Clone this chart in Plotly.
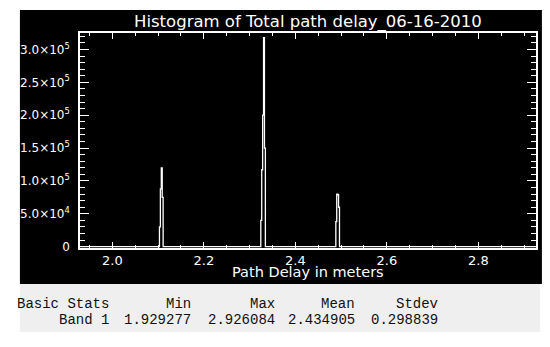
import plotly.graph_objects as go

# Histogram (bin centers in metres, counts) - only the bins around the peaks are non-zero
bin_x = [1.929277, 2.102, 2.104, 2.106, 2.108, 2.110, 2.112, 2.114,
         2.3235, 2.3255, 2.3275, 2.3295, 2.3315, 2.3335, 2.3355, 2.3375,
         2.4875, 2.4895, 2.4915, 2.4935, 2.4955, 2.4975, 2.926084]
counts = [0, 0, 30000, 88000, 120000, 75000, 0, 0,
          0, 40000, 117000, 200000, 318000, 150000, 0, 0,
          0, 38000, 80000, 79000, 60000, 0, 0]

title = "Histogram of Total path delay_06-16-2010"
x_title = "Path Delay in meters"
x_ticks = [2.0, 2.2, 2.4, 2.6, 2.8]
x_ticklabels = ["2.0", "2.2", "2.4", "2.6", "2.8"]
y_ticks = [0, 50000, 100000, 150000, 200000, 250000, 300000]
y_ticklabels = ["0", "5.0×10<sup>4</sup>", "1.0×10<sup>5</sup>", "1.5×10<sup>5</sup>",
                "2.0×10<sup>5</sup>", "2.5×10<sup>5</sup>", "3.0×10<sup>5</sup>"]

stat_row_labels = ["Basic Stats", "Band 1"]
stat_headers = ["Min", "Max", "Mean", "Stdev"]
stat_values = ["1.929277", "2.926084", "2.434905", "0.298839"]

# the page body has an 8px margin: work in screen pixels and shift
OFF = 8
W, H = 550 - OFF, 347 - OFF
L, R, T, B = 73 - OFF, 536 - OFF, 33 - OFF, 248 - OFF

def px(x):
    return (x - OFF - L) / (R - L)

def py(y):
    return (B - (y - OFF)) / (B - T)

fig = go.Figure()
fig.add_trace(go.Scatter(x=bin_x, y=counts, mode="lines", line_shape="hvh",
                         line=dict(color="white", width=1.3), hoverinfo="skip",
                         showlegend=False))

fig.add_shape(type="rect", xref="paper", yref="paper", x0=px(12), x1=px(542),
              y0=py(284), y1=py(10), fillcolor="black", line_width=0, layer="below")
fig.add_shape(type="rect", xref="paper", yref="paper", x0=px(12), x1=px(540),
              y0=py(332), y1=py(284), fillcolor="#efefef", line_width=0, layer="below")

mono = dict(family="Liberation Mono", size=14, color="#111111")
col_right = [187, 272, 353, 438]
for i, row in enumerate(stat_row_labels):
    yy = py(304 + 16 * i)
    fig.add_annotation(text=row, xref="paper", yref="paper", x=px(104), y=yy,
                       xanchor="right", yanchor="middle", showarrow=False, font=mono)
    cells = stat_headers if i == 0 else stat_values
    for c, xr in zip(cells, col_right):
        fig.add_annotation(text=c, xref="paper", yref="paper", x=px(xr + 1), y=yy,
                           xanchor="right", yanchor="middle", showarrow=False, font=mono)

fig.add_annotation(text=title, xref="paper", yref="paper", x=px(304), y=py(22),
                   xanchor="center", yanchor="middle", showarrow=False,
                   font=dict(family="DejaVu Sans", size=16.5, color="white"))
fig.add_annotation(text=x_title, xref="paper", yref="paper", x=px(304), y=py(272),
                   xanchor="center", yanchor="middle", showarrow=False,
                   font=dict(family="DejaVu Sans", size=14.5, color="white"))

axis_common = dict(showline=True, linecolor="white", linewidth=1.5, mirror="allticks",
                   ticks="inside", tickcolor="white", tickwidth=1.2, showgrid=False,
                   zeroline=False)

fig.update_xaxes(range=[1.929277, 2.926084], tickvals=x_ticks, ticktext=x_ticklabels,
                 ticklen=6, tickfont=dict(family="DejaVu Sans", size=13, color="white"),
                 minor=dict(dtick=0.05, tick0=2.0, ticks="inside", ticklen=3,
                            tickcolor="white", tickwidth=1.2),
                 **axis_common)
fig.update_yaxes(range=[-2000, 325000], tickvals=y_ticks, ticktext=y_ticklabels,
                 ticklen=9, ticklabelstandoff=6,
                 tickfont=dict(family="DejaVu Sans", size=12, color="white"),
                 minor=dict(dtick=10000, tick0=0, ticks="inside", ticklen=5,
                            tickcolor="white", tickwidth=1.2),
                 **axis_common)

fig.update_layout(width=W, height=H, margin=dict(l=L, r=W - R, t=T, b=H - B),
                  paper_bgcolor="white", plot_bgcolor="black", showlegend=False)

fig.write_html("out.html")
